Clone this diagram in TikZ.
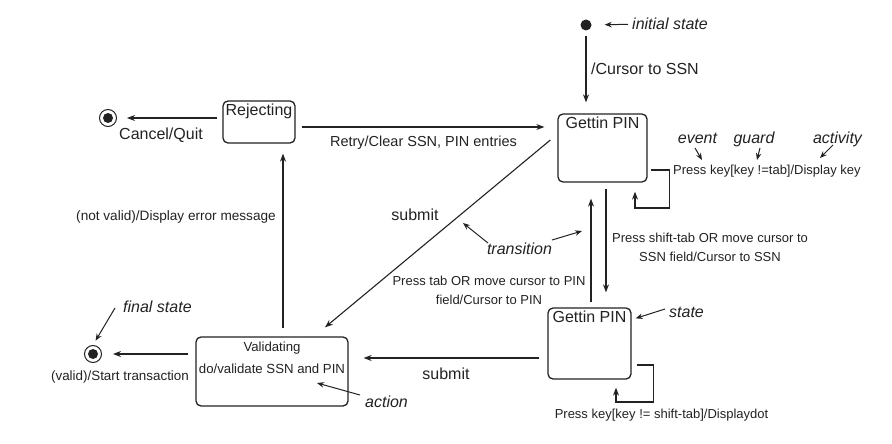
\documentclass[tikz,border=0pt]{standalone}
\usepackage{fontspec}
\setmainfont{Liberation Sans}
\usepackage{tikz}
\usetikzlibrary{arrows.meta}
\definecolor{inkgray}{RGB}{34, 34, 34}

\begin{document}
\begin{tikzpicture}[x=1pt, y=-1pt,
    every node/.style={text=inkgray},
    stbox/.style={draw=inkgray, line width=1.3pt, rounded corners=5pt, inner sep=0pt},
    sttitle/.style={font=\fontsize{16}{19}\selectfont, anchor=north, inner sep=3pt},
    lbl/.style={font=\fontsize{13}{19}\selectfont, inner sep=0pt},
    biglbl/.style={font=\fontsize{16}{19}\selectfont, inner sep=0pt},
    note/.style={font=\fontsize{16}{19}\selectfont\itshape, inner sep=0pt},
    arr/.style={draw=inkgray, line width=1.1pt, -{Stealth[length=8pt, width=6pt]}},
    notearr/.style={draw=inkgray, line width=1pt, -{Stealth[length=7pt, width=5.5pt]}},
    initst/.style={circle, fill=inkgray, minimum size=11pt, inner sep=0pt},
    finalst/.style={circle, draw=inkgray, line width=1pt, minimum size=17pt, inner sep=0pt,
        path picture={\fill[inkgray] (path picture bounding box.center) circle (5pt);}}]
    \useasboundingbox (0,0) rectangle (892,444);

    % states
    \node (init) [initst] at (586,25) {};
    \node (g1) [stbox, minimum width=89pt, minimum height=68pt, label={[sttitle]north:Gettin PIN}] at (602.5,148) {};
    \node (g2) [stbox, minimum width=83pt, minimum height=71pt, label={[sttitle]north:Gettin PIN}] at (589.5,343.5) {};
    \node (rej) [stbox, minimum width=72pt, minimum height=42pt, label={[sttitle]north:Rejecting}] at (259,122) {};
    \node (val) [stbox, minimum width=152pt, minimum height=69pt,
        label={[sttitle, inner sep=5pt, font=\fontsize{13.2}{22}\selectfont, align=center]north:Validating\\do/validate SSN and PIN}] at (272,371.5) {};
    \node (fin1) [finalst] at (108,118) {};
    \node (fin2) [finalst] at (93,354) {};

    % transition labels
    \node (cursor) [biglbl, anchor=mid west] at (591,72) {/Cursor to SSN};
    \node (cancel) [biglbl, anchor=mid] at (161,137) {Cancel/Quit};
    \node (retry) [lbl, font=\fontsize{14.5}{17}\selectfont, anchor=mid] at (423.5,144) {Retry/Clear SSN, PIN entries};
    \node (press1) [lbl, anchor=mid west] at (673,172) {Press key[key !=tab]/Display key};
    \node (shiftlbl) [lbl, align=center] at (710,247) {Press shift-tab OR move cursor to\\SSN field/Cursor to SSN};
    \node (tablbl) [lbl, align=center] at (489,290) {Press tab OR move cursor to PIN\\field/Cursor to PIN};
    \node (submit1) [biglbl, anchor=mid] at (415,218) {submit};
    \node (submit2) [biglbl, anchor=mid] at (446,377) {submit};
    \node (press2) [lbl, anchor=mid] at (661.5,416) {Press key[key != shift-tab]/Displaydot};
    \node (notvalid) [lbl, font=\fontsize{13.6}{19}\selectfont, anchor=mid] at (176,218) {(not valid)/Display error message};
    \node (valid) [lbl, font=\fontsize{13.4}{19}\selectfont, anchor=mid] at (120,378) {(valid)/Start transaction};

    % notes
    \node (initnote) [note, anchor=base west] at (632,30) {initial state};
    \node (event) [note, anchor=base] at (697.5,143) {event};
    \node (guard) [note, anchor=base] at (754,143) {guard};
    \node (activity) [note, anchor=base] at (837.5,143) {activity};
    \node (transnote) [note, anchor=base] at (519.5,254) {transition};
    \node (statenote) [note, anchor=base west] at (669,317) {state};
    \node (actnote) [note, anchor=base west] at (365,407) {action};
    \node (finnote) [note, anchor=base west] at (123,312) {final state};

    % transitions
    \draw[arr, shorten <=5pt] (init.south) -- ([xshift=-16.5pt,yshift=11pt]g1.north);
    \draw[arr, shorten <=5pt, shorten >=10pt] (rej.west |- fin1) -- (fin1.east);
    \draw[arr] ([xshift=6pt,yshift=-5pt]rej.east) -- ([xshift=-13pt,yshift=21pt]g1.west);
    \draw[arr] ([xshift=3pt,yshift=-22pt]g1.east) -- ++(19,0) -- ++(0,38) -| ([xshift=32.5pt,yshift=-9pt]g1.south);
    \draw[arr] ([xshift=-7pt,yshift=8pt]g1.west) -- ([xshift=53pt,yshift=9pt]val.north);
    \draw[arr] ([xshift=3.5pt,yshift=-6pt]g1.south) -- ([xshift=16.5pt,yshift=15pt]g2.north);
    \draw[arr] ([xshift=1.5pt,yshift=5pt]g2.north) -- ([xshift=-11.5pt,yshift=-16pt]g1.south);
    \draw[arr] ([xshift=5pt,yshift=-21.5pt]g2.east) -- ++(17,0) -- ++(0,37) -| ([xshift=26.5pt,yshift=-8pt]g2.south);
    \draw[arr] ([xshift=-8pt,yshift=-14.5pt]g2.west) -- ([xshift=15pt,yshift=13.5pt]val.east);
    \draw[arr] ([xshift=11pt,yshift=8pt]val.north) -- ([xshift=24pt,yshift=-10pt]rej.south);
    \draw[arr, shorten <=7pt, shorten >=11pt] (val.west |- fin2) -- (fin2.east);

    % note pointers
    \draw[notearr, shorten <=4pt, shorten >=13pt] (initnote.west) -- (init);
    \draw[notearr] ([shift={(-2.5,5)}]event.base) -- ++(7,12);
    \draw[notearr] ([shift={(6,5)}]guard.base) -- ++(-3,12);
    \draw[notearr] ([shift={(-4.5,2)}]activity.base) -- ++(-13,13);
    \draw[notearr] ([shift={(-31.5,-11)}]transnote.base) -- ++(-25,-20);
    \draw[notearr] ([shift={(32.5,-14)}]transnote.base) -- ++(30,-9);
    \draw[notearr] ([shift={(-4,-8)}]statenote.base west) -- ([shift={(4,11)}]g2.north east);
    \draw[notearr] ([shift={(-5,-12)}]actnote.base west) -- ([shift={(45,11.5)}]val.center);
    \draw[notearr, shorten >=5pt] ([shift={(-8,-4)}]finnote.base west) -- (fin2.north);
\end{tikzpicture}
\end{document}
